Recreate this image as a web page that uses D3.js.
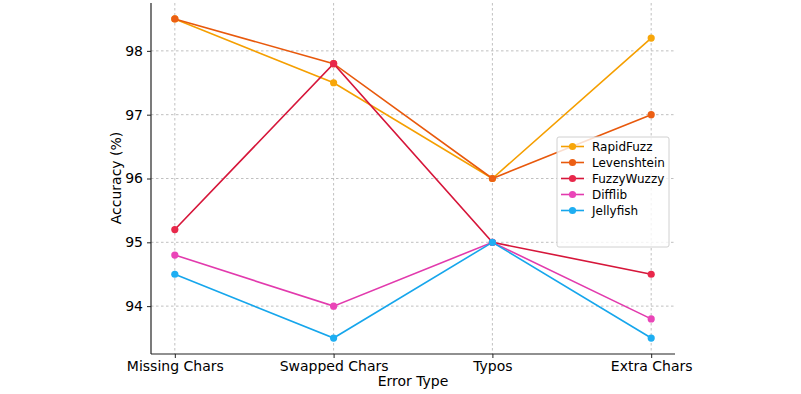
<!DOCTYPE html>
<html><head><meta charset="utf-8">
<script src="https://cdn.jsdelivr.net/npm/d3@7"></script>
<style>body{margin:0;background:#fff}svg{display:block}text{font-family:"DejaVu Sans",sans-serif;fill:#000}</style>
</head><body><svg id="c" width="801" height="394"></svg>
<script>
const categories = ["Missing Chars","Swapped Chars","Typos","Extra Chars"];
const seriesNames = ["RapidFuzz","Levenshtein","FuzzyWuzzy","Difflib","Jellyfish"];
const rapidFuzz = [98.5, 97.5, 96.0, 98.2];
const levenshtein = [98.5, 97.8, 96.0, 97.0];
const fuzzyWuzzy = [95.2, 97.8, 95.0, 94.5];
const difflib = [94.8, 94.0, 95.0, 93.8];
const jellyfish = [94.5, 93.5, 95.0, 93.5];
const yTicks = [94, 95, 96, 97, 98];
const colors = ["#f59f00","#e8590c","#d6163a","#e23aad","#16a6ec"];
const markerColors = ["#f7a60a","#ec5f14","#e8284b","#ea45b8","#1eaef2"];
const seriesValues = [rapidFuzz, levenshtein, fuzzyWuzzy, difflib, jellyfish];

(function(){
const svg = d3.select("#c");
const pL = 151, pR = 675, pT = 3, pB = 354;
const x = d3.scaleLinear().domain([-0.15, 3.15]).range([pL, pR]);
const y = d3.scaleLinear().domain([93.25, 98.75]).range([pB, pT]);

const g = svg.append("g");
g.selectAll(".gy").data(yTicks).join("line")
  .attr("x1", pL).attr("x2", pR).attr("y1", d => y(d)).attr("y2", d => y(d))
  .attr("stroke", "#b0b0b0").attr("stroke-width", 0.8).attr("stroke-dasharray", "2.5,2.5");
g.selectAll(".gx").data(categories).join("line")
  .attr("x1", (d,i) => x(i)).attr("x2", (d,i) => x(i)).attr("y1", pT).attr("y2", pB)
  .attr("stroke", "#b0b0b0").attr("stroke-width", 0.8).attr("stroke-dasharray", "2.5,2.5");

const xAxis = d3.axisBottom(x).tickValues([0,1,2,3]).tickFormat(i => categories[i]).tickSize(4).tickPadding(3);
const yAxis = d3.axisLeft(y).tickValues(yTicks).tickFormat(d3.format("d")).tickSize(4).tickPadding(4);
const ax = svg.append("g").attr("transform", `translate(0,${pB})`).call(xAxis);
const ay = svg.append("g").attr("transform", `translate(${pL},0)`).call(yAxis);
[ax, ay].forEach(a => {
  a.select(".domain").attr("stroke", "#222").attr("stroke-width", 1.2);
  a.selectAll(".tick line").attr("stroke", "#222").attr("stroke-width", 1);
  a.selectAll(".tick text").attr("font-size", 14).attr("font-family", "DejaVu Sans").attr("fill", "#000");
});
ax.select(".domain").attr("d", `M${pL},0H${pR}`);
ay.select(".domain").attr("d", `M0,${pT}V${pB}`);

svg.append("text").attr("x", 413).attr("y", 386).attr("text-anchor", "middle").attr("font-size", 14).text("Error Type");
svg.append("text").attr("transform", "translate(121,178) rotate(-90)").attr("text-anchor", "middle").attr("font-size", 14).text("Accuracy (%)");

const line = d3.line().x((d,i) => x(i)).y(d => y(d));
seriesValues.forEach((vals, s) => {
  svg.append("path").datum(vals).attr("d", line).attr("fill", "none")
    .attr("stroke", colors[s]).attr("stroke-width", 1.6);
  svg.selectAll(null).data(vals).join("circle")
    .attr("cx", (d,i) => x(i)).attr("cy", d => y(d)).attr("r", 3.6).attr("fill", markerColors[s]);
});

const lg = svg.append("g").attr("transform", "translate(557,137)");
lg.append("rect").attr("width", 112).attr("height", 110).attr("rx", 2)
  .attr("fill", "rgba(255,255,255,0.8)").attr("stroke", "#d0d0d0").attr("stroke-width", 1);
seriesNames.forEach((n, i) => {
  const yy = 9.5 + i * 16;
  lg.append("line").attr("x1", 4).attr("x2", 27).attr("y1", yy).attr("y2", yy).attr("stroke", colors[i]).attr("stroke-width", 1.6);
  lg.append("circle").attr("cx", 15.5).attr("cy", yy).attr("r", 3.6).attr("fill", markerColors[i]);
  lg.append("text").attr("x", 35).attr("y", yy + 4.5).attr("font-size", 12).text(n);
});
})();
</script></body></html>
